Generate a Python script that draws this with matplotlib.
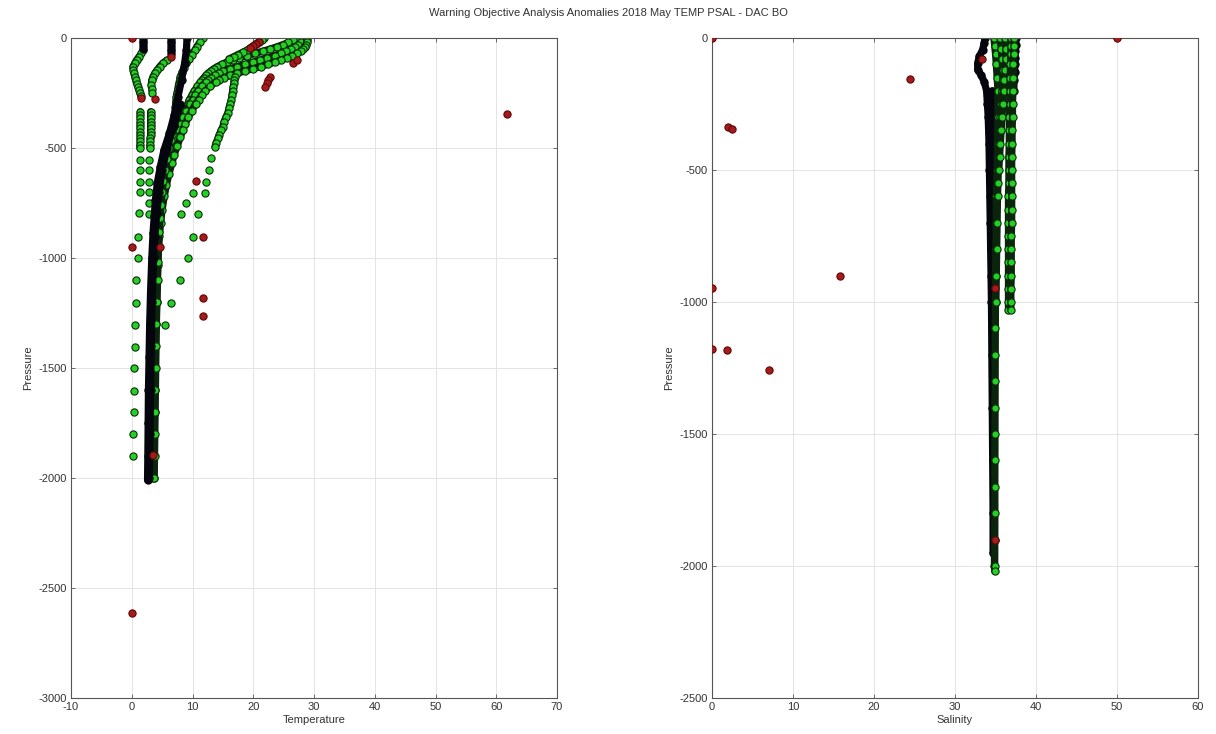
import matplotlib
matplotlib.use("Agg")
import matplotlib.pyplot as plt

plt.rcParams["font.family"] = ["Liberation Sans", "DejaVu Sans"]
plt.rcParams["axes.unicode_minus"] = False

TITLE = "Warning Objective Analysis Anomalies 2018 May TEMP PSAL - DAC BO"

# ---------------- temperature panel ----------------
# shallow cold profile (top part black, then green)
t1_top_pres = [0, -12, -24, -36, -48]
t1_top_temp = [1.9, 1.9, 1.9, 1.9, 1.9]
t1_pres = [-55, -70, -85, -100, -115, -130, -145, -160, -176, -192, -208, -221, -236, -250, -262]
t1_temp = [1.9, 1.6, 1.2, 0.8, 0.5, 0.2, 0.25, 0.35, 0.5, 0.65, 0.85, 1.0, 1.2, 1.35, 1.5]
t1_col_pres = [-335, -350, -365, -380, -395, -410, -425, -440, -455, -470, -485, -500]
t1_col_temp = [1.4, 1.4, 1.4, 1.4, 1.4, 1.4, 1.4, 1.4, 1.4, 1.4, 1.35, 1.35]
t1_sparse_pres = [-555, -600, -655, -700, -795, -905, -1000, -1100, -1205, -1305,
                  -1405, -1500, -1605, -1700, -1800, -1900]
t1_sparse_temp = [1.3, 1.3, 1.3, 1.3, 1.2, 1.0, 1.0, 0.75, 0.7, 0.5, 0.5, 0.3, 0.3, 0.3, 0.2, 0.2]

# second shallow profile
t2_top_pres = [0, -12, -24, -36, -48, -60, -72]
t2_top_temp = [6.5, 6.5, 6.5, 6.5, 6.5, 6.5, 6.5]
t2_pres = [-100, -115, -130, -145, -160, -176, -192, -214, -232, -251]
t2_temp = [5.8, 5.1, 4.6, 4.2, 3.8, 3.5, 3.3, 3.2, 3.3, 3.4]
t2_col_pres = [-335, -350, -365, -380, -395, -410, -425, -440, -455, -470, -485, -500]
t2_col_temp = [3.1, 3.1, 3.1, 3.1, 3.1, 3.1, 3.1, 3.1, 3.05, 3.05, 3.0, 3.0]
t2_sparse_pres = [-555, -600, -655, -700, -750, -800]
t2_sparse_temp = [2.8, 2.8, 2.8, 2.8, 2.9, 2.9]

# black trunk profiles
trunk_a_pres = [0, -55, -115, -191, -267, -350, -433, -510, -585, -660, -736, -810, -888,
                -1000, -1150, -1300, -1450, -1600, -1750, -1900, -2010]
trunk_a_temp = [9.1, 9.0, 8.7, 8.2, 7.6, 7.0, 6.2, 5.3, 4.7, 4.2, 3.9, 3.7, 3.5,
                3.3, 3.1, 2.95, 2.85, 2.75, 2.7, 2.65, 2.6]
trunk_b_pres = [-300, -400, -500, -600, -700, -800, -900, -1000, -1200, -1400, -1600, -1800, -2000]
trunk_b_temp = [8.0, 6.9, 5.8, 5.0, 4.5, 4.1, 3.8, 3.6, 3.35, 3.2, 3.1, 3.0, 2.9]

# warm surface tongue (three overlapping profiles)
tongue_pres = [0, -10, -20, -30, -40, -50, -60, -70, -80, -90, -100, -110, -120, -130, -140,
               -150, -160, -170, -180, -190, -200, -220, -240, -260, -280, -300, -330, -360,
               -390, -420, -450, -490, -530, -570, -620, -670, -720, -780, -840, -900, -960,
               -1030, -1100, -1200, -1300, -1400, -1500, -1600, -1700, -1800, -1900, -2000]
tongue_a_temp = [28.6, 28.3, 27.9, 27.4, 26.9, 26.2, 25.4, 24.5, 23.5, 22.3, 21.1, 19.9, 18.7,
                 17.4, 16.2, 15.1, 14.3, 13.7, 13.1, 12.6, 12.2, 11.5, 10.9, 10.4, 10.0, 9.6,
                 9.0, 8.5, 8.1, 7.7, 7.3, 6.9, 6.4, 6.0, 5.6, 5.2, 4.9, 4.6, 4.4, 4.2, 4.05,
                 3.95, 3.85, 3.75, 3.65, 3.55, 3.5, 3.45, 3.4, 3.35, 3.3, 3.25]
tongue_b_temp = [27.2, 26.6, 25.8, 24.9, 23.9, 22.8, 21.6, 20.3, 19.0, 17.7, 16.6, 15.6, 14.8,
                 14.1, 13.5, 13.0, 12.6, 12.2, 11.9, 11.6, 11.3, 10.8, 10.3, 9.9, 9.5, 9.2,
                 8.6, 8.1, 7.7, 7.3, 6.9, 6.4, 6.0, 5.6, 5.2, 4.9, 4.6, 4.35, 4.15, 3.95, 3.8,
                 3.7, 3.6, 3.5, 3.4, 3.3, 3.25, 3.2, 3.15, 3.1, 3.05, 3.0]
tongue_c_temp = [28.9, 28.9, 28.8, 28.7, 28.5, 28.2, 27.8, 27.2, 26.4, 25.6, 24.6, 23.5, 22.4,
                 21.2, 19.9, 18.6, 17.4, 16.2, 15.2, 14.4, 13.8, 12.9, 12.1, 11.5, 11.0, 10.5,
                 9.9, 9.3, 8.8, 8.4, 8.0, 7.5, 7.0, 6.6, 6.1, 5.7, 5.35, 5.0, 4.75, 4.55, 4.4,
                 4.3, 4.2, 4.1, 4.0, 3.9, 3.85, 3.8, 3.75, 3.7, 3.65, 3.6]

# branch starting near 21.7 degC at the surface
branch_pres = [0, -8, -16, -25, -35, -45, -55, -65, -75, -85, -95]
branch_temp = [21.7, 21.4, 21.0, 20.5, 20.0, 19.5, 19.0, 18.3, 17.5, 16.8, 16.0]

# green profile from ~11.7 degC at surface into the right side of the trunk
t4_pres = [0, -20, -40, -55, -75, -95, -115, -135, -155, -175, -191, -210, -230, -250, -267,
           -290, -315, -340, -358, -385, -410, -440, -464, -500, -550, -600, -650, -700, -760,
           -820, -880, -950, -1020, -1100, -1200, -1300, -1400, -1500, -1600, -1700, -1800,
           -1900, -2000]
t4_temp = [11.7, 11.2, 10.7, 10.4, 9.9, 9.5, 9.0, 8.6, 8.3, 8.0, 7.9, 7.7, 7.6, 7.45, 7.35,
           7.25, 7.2, 7.15, 7.1, 6.9, 6.75, 6.6, 6.5, 6.2, 5.8, 5.5, 5.2, 5.0, 4.8, 4.65, 4.5,
           4.4, 4.3, 4.25, 4.15, 4.05, 4.0, 3.95, 3.9, 3.85, 3.8, 3.75, 3.7]

# warm profile leaving the tongue near 17 degC
warm_pres = [-160, -176, -190, -205, -221, -240, -260, -282, -300, -320, -342, -360, -380,
             -403, -420, -440, -456, -475, -494]
warm_temp = [17.4, 17.0, 16.9, 16.8, 16.7, 16.6, 16.5, 16.4, 16.2, 16.0, 15.8, 15.5, 15.2,
             15.0, 14.7, 14.4, 14.2, 13.9, 13.7]
warm_sparse_pres = [-547, -600, -653, -703, -798, -903, -1001, -1100, -1203, -1305]
warm_sparse_temp = [13.1, 12.7, 12.3, 12.0, 10.9, 10.1, 9.3, 7.9, 6.5, 5.4]
mid_sparse_pres = [-703, -751, -798]
mid_sparse_temp = [10.0, 9.0, 8.1]

# flagged (red) temperature points
red_temp = [0, 0, 0, 61.7, 1.6, 6.5, 3.9, 10.6, 11.7, 11.7, 11.7, 4.6, 3.5,
            21.0, 20.5, 20.0, 19.5, 22.7, 22.4, 22.2, 21.9, 26.5, 27.2]
red_temp_pres = [0, -948, -2614, -345, -274, -85, -279, -650, -906, -1180, -1262, -951, -1895,
                 -16, -25, -35, -45, -176, -190, -205, -221, -112, -98]

# ---------------- salinity panel ----------------
s_black_pres = [0, -20, -45, -70, -95, -120, -140, -165, -200, -250, -300, -400, -500, -600,
                -700, -800, -900, -1000, -1200, -1400, -1600, -1800, -1950]
s_black_sal = [33.7, 33.6, 33.4, 33.0, 32.8, 32.8, 33.2, 33.6, 33.9, 34.0, 34.1, 34.2, 34.25,
               34.3, 34.35, 34.4, 34.45, 34.5, 34.55, 34.6, 34.65, 34.7, 34.7]
s_black2_pres = [-200, -400, -600, -800, -1000, -1200, -1400, -1600, -1800, -2000]
s_black2_sal = [34.6, 34.7, 34.75, 34.8, 34.82, 34.84, 34.85, 34.86, 34.87, 34.87]
s_deep_pres = [0, -30, -60, -100, -150, -200, -300, -400, -500, -600, -700, -800, -900, -1000,
               -1100, -1200, -1300, -1400, -1500, -1600, -1700, -1800, -1900, -2000, -2020]
s_deep_sal = [34.8, 34.9, 35.0, 35.1, 35.2, 35.3, 35.3, 35.25, 35.2, 35.1, 35.1, 35.05, 35.0,
              35.0, 34.98, 34.97, 34.96, 34.95, 34.94, 34.93, 34.92, 34.92, 34.91, 34.9, 34.9]
s_mid_pres = [0, -40, -80, -120, -160, -200, -250, -300, -350, -400, -450, -500, -550, -600,
              -700, -800, -900, -1000]
s_mid_sal = [35.6, 35.7, 35.8, 35.9, 35.9, 35.8, 35.7, 35.6, 35.5, 35.45, 35.4, 35.35, 35.3,
             35.25, 35.2, 35.15, 35.1, 35.05]
s_mid2_pres = [0, -40, -80, -120, -160, -200, -250, -300, -350, -400, -450, -500]
s_mid2_sal = [36.2, 36.3, 36.3, 36.2, 36.1, 36.0, 35.9, 35.8, 35.7, 35.6, 35.5, 35.4]
s_med_pres = [0, -30, -60, -100, -150, -200, -250, -300, -350, -400, -450, -500, -550, -600,
              -650, -700, -750, -800, -850, -900, -950, -1000, -1030]
s_med_a_sal = [36.9, 36.9, 36.9, 36.85, 36.8, 36.8, 36.75, 36.7, 36.7, 36.7, 36.65, 36.65,
               36.65, 36.6, 36.6, 36.6, 36.6, 36.6, 36.6, 36.6, 36.6, 36.6, 36.6]
s_med_b_sal = [37.3, 37.3, 37.25, 37.2, 37.2, 37.15, 37.1, 37.1, 37.05, 37.05, 37.0, 37.0,
               37.0, 37.0, 37.0, 37.0, 36.95, 36.95, 36.95, 36.95, 36.9, 36.9, 36.9]
s_top_pres = [0, -25, -50, -75, -100, -130, -160, -200]
s_top_sal = [37.5, 37.5, 37.45, 37.4, 37.4, 37.35, 37.3, 37.25]

red_sal = [0, 2.0, 2.5, 24.4, 0, 0, 1.8, 7.0, 15.8, 50.0, 33.3, 34.9, 34.9]
red_sal_pres = [0, -336, -346, -155, -948, -1178, -1182, -1258, -901, 0, -78, -947, -1902]

GREEN, EDGE, BAND = "#25d025", "#0a2c0a", "#0a250c"
BLACK = "#05060d"
RED, RED_EDGE = "#a51b1b", "#5c0707"
MS = 5.2


def profile(ax, x, y, black=False, dense=True):
    face = BLACK if black else GREEN
    edge = BLACK if black else EDGE
    if dense:
        ax.plot(x, y, "-", color=BLACK if black else BAND, lw=MS,
                solid_capstyle="round", solid_joinstyle="round", zorder=2)
    ax.plot(x, y, "o", ls="none", ms=MS, mfc=face, mec=edge, mew=0.8, zorder=2)


def style(ax, xlim, ylim, xlabel):
    ax.set_xlim(*xlim)
    ax.set_ylim(*ylim)
    ax.set_xticks(range(xlim[0], xlim[1] + 1, 10))
    ax.set_yticks(range(ylim[0], 1, 500))
    ax.tick_params(direction="in", length=3, width=0.6, top=True, right=True,
                   labelsize=8, color="#555555", labelcolor="#333333", pad=3)
    ax.grid(True, color="#e4e4e4", lw=0.7)
    ax.set_axisbelow(True)
    for s in ax.spines.values():
        s.set_color("#555555")
        s.set_linewidth(0.8)
    ax.set_xlabel(xlabel, fontsize=8, color="#333333", labelpad=2)
    ax.set_ylabel("Pressure", fontsize=8, color="#333333", labelpad=4)


fig = plt.figure(figsize=(12.16, 7.34), dpi=100)
ax1 = fig.add_axes([71 / 1216, 36 / 734, 486 / 1216, 660 / 734])
ax2 = fig.add_axes([712 / 1216, 36 / 734, 486 / 1216, 660 / 734])

# temperature
for tmp in (tongue_b_temp, tongue_a_temp, tongue_c_temp):
    profile(ax1, tmp, tongue_pres)
profile(ax1, t4_temp, t4_pres)
profile(ax1, branch_temp, branch_pres)
profile(ax1, warm_temp, warm_pres)
profile(ax1, warm_sparse_temp, warm_sparse_pres, dense=False)
profile(ax1, mid_sparse_temp, mid_sparse_pres, dense=False)
profile(ax1, t1_temp, t1_pres)
profile(ax1, t1_col_temp, t1_col_pres)
profile(ax1, t1_sparse_temp, t1_sparse_pres, dense=False)
profile(ax1, t2_temp, t2_pres)
profile(ax1, t2_col_temp, t2_col_pres)
profile(ax1, t2_sparse_temp, t2_sparse_pres, dense=False)
profile(ax1, trunk_a_temp, trunk_a_pres, black=True)
profile(ax1, trunk_b_temp, trunk_b_pres, black=True)
profile(ax1, t1_top_temp, t1_top_pres, black=True)
profile(ax1, t2_top_temp, t2_top_pres, black=True)
ax1.plot(red_temp, red_temp_pres, "o", ls="none", ms=MS, mfc=RED, mec=RED_EDGE, mew=0.8, zorder=4)
style(ax1, (-10, 70), (-3000, 0), "Temperature")

# salinity
profile(ax2, s_black_sal, s_black_pres, black=True)
profile(ax2, s_black2_sal, s_black2_pres, black=True)
profile(ax2, s_top_sal, s_top_pres, black=True)
profile(ax2, s_deep_sal, s_deep_pres)
profile(ax2, s_mid_sal, s_mid_pres)
profile(ax2, s_mid2_sal, s_mid2_pres)
profile(ax2, s_med_a_sal, s_med_pres)
profile(ax2, s_med_b_sal, s_med_pres)
ax2.plot(red_sal, red_sal_pres, "o", ls="none", ms=MS, mfc=RED, mec=RED_EDGE, mew=0.8, zorder=4)
style(ax2, (0, 60), (-2500, 0), "Salinity")

fig.text(0.5, 1 - 13 / 734, TITLE, ha="center", va="center", fontsize=8, color="#333333")
fig.savefig("out.png", dpi=100)
